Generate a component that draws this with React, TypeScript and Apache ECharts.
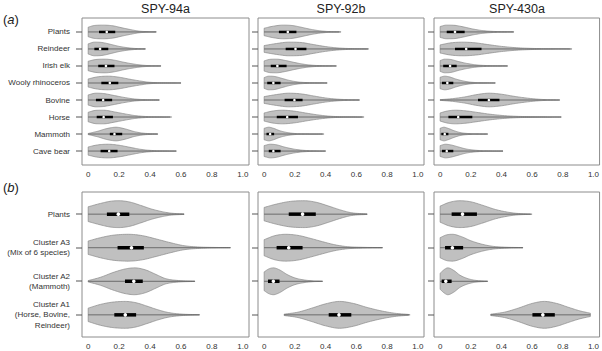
import React, { useEffect, useRef } from 'react';
import * as echarts from 'echarts';

const panelTitles = ['SPY-94a', 'SPY-92b', 'SPY-430a'];
const rowsA = ['Plants', 'Reindeer', 'Irish elk', 'Wooly rhinoceros', 'Bovine', 'Horse', 'Mammoth', 'Cave bear'];
const rowsB = ['Plants', 'Cluster A3\n(Mix of 6 species)', 'Cluster A2\n(Mammoth)', 'Cluster A1\n(Horse, Bovine,\nReindeer)'];
const xTicks = [0, 0.2, 0.4, 0.6, 0.8, 1.0];

// box stats per violin: [q1, median, q3, end of whisker line]
const boxA94 = [[0.07, 0.12, 0.175, 0.44], [0.04, 0.077, 0.13, 0.37], [0.065, 0.115, 0.17, 0.47], [0.085, 0.14, 0.195, 0.6], [0.05, 0.097, 0.155, 0.46], [0.055, 0.1, 0.16, 0.53], [0.14, 0.17, 0.22, 0.45], [0.08, 0.136, 0.19, 0.57]];
const boxA92 = [[0.096, 0.154, 0.21, 0.49], [0.14, 0.204, 0.275, 0.675], [0.043, 0.086, 0.146, 0.47], [0.02, 0.06, 0.107, 0.41], [0.133, 0.197, 0.25, 0.62], [0.082, 0.15, 0.22, 0.64], [0.015, 0.039, 0.065, 0.39], [0.03, 0.06, 0.107, 0.4]];
const boxA430 = [[0.043, 0.097, 0.16, 0.48], [0.097, 0.17, 0.27, 0.85], [0.02, 0.065, 0.108, 0.44], [0.012, 0.047, 0.086, 0.36], [0.247, 0.318, 0.387, 0.78], [0.054, 0.118, 0.21, 0.79], [0.008, 0.03, 0.054, 0.31], [0.012, 0.043, 0.086, 0.41]];
const boxB94 = [[0.121, 0.195, 0.266, 0.62], [0.19, 0.28, 0.36, 0.92], [0.238, 0.295, 0.353, 0.69], [0.169, 0.24, 0.31, 0.72]];
const boxB92 = [[0.16, 0.25, 0.336, 0.67], [0.081, 0.16, 0.25, 0.77], [0.025, 0.06, 0.1, 0.38], [0.42, 0.487, 0.567, 0.95]];
const boxB430 = [[0.075, 0.146, 0.24, 0.6], [0.032, 0.08, 0.15, 0.54], [0.01, 0.037, 0.075, 0.31], [0.602, 0.67, 0.748, 0.98]];

// violin outlines: [x, relative half-width (1 = widest)]
const shapeA94 = [
  [[0, 0.7], [0.04, 0.95], [0.1, 1], [0.16, 0.9], [0.22, 0.6], [0.28, 0.32], [0.33, 0.12], [0.38, 0.05], [0.44, 0.02]],
  [[0, 0.75], [0.04, 1], [0.09, 0.95], [0.15, 0.65], [0.2, 0.38], [0.25, 0.2], [0.3, 0.08], [0.37, 0.02]],
  [[0, 0.7], [0.05, 0.95], [0.11, 1], [0.17, 0.85], [0.23, 0.55], [0.29, 0.3], [0.35, 0.12], [0.4, 0.05], [0.47, 0.02]],
  [[0, 0.6], [0.06, 0.9], [0.13, 1], [0.2, 0.85], [0.27, 0.55], [0.34, 0.28], [0.4, 0.1], [0.5, 0.04], [0.6, 0.01]],
  [[0, 0.75], [0.05, 1], [0.1, 0.95], [0.17, 0.65], [0.24, 0.35], [0.3, 0.15], [0.36, 0.06], [0.46, 0.02]],
  [[0, 0.7], [0.05, 0.98], [0.1, 1], [0.17, 0.75], [0.24, 0.45], [0.3, 0.22], [0.37, 0.08], [0.45, 0.03], [0.54, 0.01]],
  [[0, 0.08], [0.06, 0.4], [0.12, 0.8], [0.18, 1], [0.24, 0.75], [0.3, 0.35], [0.36, 0.12], [0.45, 0.02]],
  [[0, 0.6], [0.06, 0.9], [0.13, 1], [0.2, 0.85], [0.27, 0.55], [0.34, 0.25], [0.4, 0.1], [0.48, 0.04], [0.57, 0.01]],
];
const shapeA92 = [
  [[0, 0.55], [0.06, 0.85], [0.12, 1], [0.18, 0.95], [0.24, 0.7], [0.3, 0.4], [0.36, 0.18], [0.42, 0.06], [0.5, 0.02]],
  [[0, 0.5], [0.08, 0.8], [0.16, 1], [0.24, 0.95], [0.32, 0.65], [0.4, 0.35], [0.48, 0.15], [0.56, 0.06], [0.68, 0.02]],
  [[0, 0.75], [0.04, 0.98], [0.08, 1], [0.14, 0.8], [0.2, 0.5], [0.26, 0.25], [0.32, 0.1], [0.4, 0.04], [0.47, 0.01]],
  [[0, 0.8], [0.03, 1], [0.07, 0.95], [0.12, 0.65], [0.17, 0.35], [0.22, 0.15], [0.28, 0.06], [0.41, 0.01]],
  [[0, 0.5], [0.08, 0.8], [0.16, 1], [0.24, 0.9], [0.32, 0.6], [0.4, 0.3], [0.48, 0.12], [0.55, 0.05], [0.62, 0.02]],
  [[0, 0.6], [0.06, 0.9], [0.12, 1], [0.2, 0.85], [0.28, 0.55], [0.36, 0.28], [0.44, 0.1], [0.54, 0.04], [0.65, 0.01]],
  [[0, 0.85], [0.03, 1], [0.06, 0.85], [0.1, 0.5], [0.15, 0.22], [0.2, 0.08], [0.27, 0.03], [0.38, 0.01]],
  [[0, 0.8], [0.04, 1], [0.08, 0.92], [0.13, 0.6], [0.19, 0.3], [0.25, 0.12], [0.32, 0.04], [0.4, 0.01]],
];
const shapeA430 = [
  [[0, 0.8], [0.04, 1], [0.09, 0.98], [0.15, 0.75], [0.21, 0.45], [0.27, 0.22], [0.33, 0.1], [0.4, 0.04], [0.48, 0.01]],
  [[0, 0.6], [0.07, 0.9], [0.15, 1], [0.23, 0.9], [0.31, 0.65], [0.4, 0.38], [0.5, 0.18], [0.6, 0.08], [0.72, 0.03], [0.86, 0.01]],
  [[0, 0.8], [0.03, 1], [0.07, 0.95], [0.12, 0.65], [0.18, 0.35], [0.24, 0.15], [0.31, 0.06], [0.44, 0.01]],
  [[0, 0.85], [0.03, 1], [0.06, 0.9], [0.1, 0.6], [0.15, 0.3], [0.2, 0.12], [0.26, 0.04], [0.36, 0.01]],
  [[0, 0.05], [0.08, 0.2], [0.16, 0.45], [0.24, 0.8], [0.32, 1], [0.4, 0.85], [0.48, 0.55], [0.56, 0.3], [0.64, 0.12], [0.7, 0.05], [0.78, 0.01]],
  [[0, 0.6], [0.05, 0.9], [0.1, 1], [0.17, 0.9], [0.25, 0.65], [0.33, 0.4], [0.42, 0.2], [0.5, 0.1], [0.6, 0.05], [0.7, 0.02], [0.79, 0.01]],
  [[0, 0.85], [0.025, 1], [0.05, 0.85], [0.09, 0.5], [0.13, 0.22], [0.18, 0.08], [0.24, 0.03], [0.31, 0.01]],
  [[0, 0.8], [0.035, 1], [0.07, 0.9], [0.12, 0.6], [0.17, 0.3], [0.23, 0.12], [0.3, 0.04], [0.41, 0.01]],
];
const shapeB94 = [
  [[0, 0.55], [0.08, 0.8], [0.15, 0.97], [0.2, 1], [0.27, 0.9], [0.34, 0.65], [0.41, 0.38], [0.48, 0.18], [0.54, 0.07], [0.62, 0.02]],
  [[0, 0.5], [0.08, 0.75], [0.16, 0.93], [0.26, 1], [0.35, 0.9], [0.44, 0.65], [0.53, 0.38], [0.62, 0.15], [0.72, 0.05], [0.82, 0.02], [0.92, 0.01]],
  [[0, 0.05], [0.08, 0.3], [0.16, 0.65], [0.24, 0.92], [0.3, 1], [0.37, 0.85], [0.44, 0.5], [0.5, 0.2], [0.57, 0.07], [0.69, 0.01]],
  [[0, 0.5], [0.08, 0.78], [0.16, 0.95], [0.24, 1], [0.31, 0.9], [0.38, 0.65], [0.45, 0.38], [0.52, 0.17], [0.6, 0.06], [0.72, 0.01]],
];
const shapeB92 = [
  [[0, 0.5], [0.08, 0.75], [0.17, 0.95], [0.26, 1], [0.34, 0.88], [0.42, 0.6], [0.5, 0.3], [0.57, 0.1], [0.67, 0.02]],
  [[0, 0.6], [0.07, 0.9], [0.14, 1], [0.22, 0.92], [0.3, 0.7], [0.38, 0.45], [0.46, 0.22], [0.54, 0.08], [0.64, 0.03], [0.77, 0.01]],
  [[0, 0.7], [0.03, 0.92], [0.06, 1], [0.1, 0.85], [0.15, 0.5], [0.2, 0.25], [0.26, 0.1], [0.32, 0.03], [0.38, 0.01]],
  [[0.13, 0.05], [0.22, 0.2], [0.31, 0.5], [0.4, 0.82], [0.49, 1], [0.58, 0.85], [0.67, 0.55], [0.76, 0.3], [0.85, 0.12], [0.94, 0.03]],
];
const shapeB430 = [
  [[0, 0.6], [0.06, 0.88], [0.13, 1], [0.2, 0.92], [0.28, 0.65], [0.36, 0.35], [0.44, 0.15], [0.5, 0.06], [0.59, 0.01]],
  [[0, 0.75], [0.04, 0.95], [0.08, 1], [0.14, 0.82], [0.2, 0.52], [0.27, 0.27], [0.34, 0.11], [0.42, 0.04], [0.54, 0.01]],
  [[0, 0.6], [0.03, 0.9], [0.05, 1], [0.09, 0.8], [0.13, 0.45], [0.18, 0.2], [0.23, 0.07], [0.31, 0.01]],
  [[0.33, 0.05], [0.42, 0.2], [0.51, 0.5], [0.6, 0.85], [0.68, 1], [0.76, 0.85], [0.84, 0.55], [0.91, 0.3], [0.98, 0.12]],
];

const FONT = 'Liberation Sans, Arial, Helvetica, sans-serif';

// monotone cubic (Fritsch-Carlson) for drawing a smooth outline through the read points
function smoothOutline(pts: number[][], steps = 8): number[][] {
  const n = pts.length;
  if (n < 3) return pts;
  const xs = pts.map((p) => p[0]);
  const ys = pts.map((p) => p[1]);
  const d: number[] = [];
  for (let i = 0; i < n - 1; i++) d.push((ys[i + 1] - ys[i]) / (xs[i + 1] - xs[i]));
  const m: number[] = new Array(n);
  m[0] = d[0];
  m[n - 1] = d[n - 2];
  for (let i = 1; i < n - 1; i++) {
    if (d[i - 1] * d[i] <= 0) m[i] = 0;
    else m[i] = (d[i - 1] + d[i]) / 2;
  }
  for (let i = 0; i < n - 1; i++) {
    if (d[i] === 0) { m[i] = 0; m[i + 1] = 0; continue; }
    const a = m[i] / d[i];
    const b = m[i + 1] / d[i];
    const s = a * a + b * b;
    if (s > 9) {
      const t = 3 / Math.sqrt(s);
      m[i] = t * a * d[i];
      m[i + 1] = t * b * d[i];
    }
  }
  const out: number[][] = [];
  for (let i = 0; i < n - 1; i++) {
    const h = xs[i + 1] - xs[i];
    for (let k = 0; k < steps; k++) {
      const t = k / steps;
      const h00 = 2 * t * t * t - 3 * t * t + 1;
      const h10 = t * t * t - 2 * t * t + t;
      const h01 = -2 * t * t * t + 3 * t * t;
      const h11 = t * t * t - t * t;
      out.push([xs[i] + t * h, Math.max(0, h00 * ys[i] + h10 * h * m[i] + h01 * ys[i + 1] + h11 * h * m[i + 1])]);
    }
  }
  out.push([xs[n - 1], ys[n - 1]]);
  return out;
}

function makeRender(boxes: number[][], shapes: number[][][], thick: number, dotR: number) {
  return (params: any, api: any) => {
    const i = params.dataIndex;
    const row = i + 1;
    const prof = shapes[i];
    const [q1, med, q3, hi] = boxes[i];
    const c0 = api.coord([0, row]);
    const cy = c0[1];
    const hw = Math.abs(api.coord([0, row + 0.4])[1] - cy);
    const dense = smoothOutline(prof);
    const top = dense.map(([x, w]) => [api.coord([x, row])[0], cy - w * hw]);
    const bot = dense.slice().reverse().map(([x, w]) => [api.coord([x, row])[0], cy + w * hw]);
    const xLo = api.coord([prof[0][0], row])[0];
    const xHi = api.coord([hi, row])[0];
    const xq1 = api.coord([q1, row])[0];
    const xq3 = api.coord([q3, row])[0];
    const xm = api.coord([med, row])[0];
    const gx = api.coord([-0.04, row])[0];
    return {
      type: 'group',
      children: [
        // y-axis tick mark
        { type: 'rect', shape: { x: gx - 6, y: Math.round(cy) - 0.5, width: 6, height: 1 }, style: { fill: '#555' }, z2: 100 },
        { type: 'polygon', shape: { points: top.concat(bot) }, style: { fill: '#c0c0c0', stroke: '#888', lineWidth: 0.7 } },
        { type: 'line', shape: { x1: xLo, y1: cy, x2: xHi, y2: cy }, style: { stroke: '#555', lineWidth: 0.8 } },
        { type: 'rect', shape: { x: xq1, y: cy - thick / 2, width: xq3 - xq1, height: thick }, style: { fill: '#000' } },
        { type: 'circle', shape: { cx: xm, cy, r: dotR }, style: { fill: '#fff' } },
      ],
    };
  };
}

export default function App() {
  const ref = useRef<HTMLDivElement>(null);
  useEffect(() => {
    if (!ref.current) return;
    const chart = echarts.init(ref.current, undefined, { renderer: 'svg' });
    const colLeft = [82, 258, 434];
    const colWidth = [167, 166, 166];
    const rowTop = [18, 192];
    const rowHeight = [147, 145];
    const panels = [
      { r: 0, c: 0, rows: rowsA, box: boxA94, shape: shapeA94 },
      { r: 0, c: 1, rows: rowsA, box: boxA92, shape: shapeA92 },
      { r: 0, c: 2, rows: rowsA, box: boxA430, shape: shapeA430 },
      { r: 1, c: 0, rows: rowsB, box: boxB94, shape: shapeB94 },
      { r: 1, c: 1, rows: rowsB, box: boxB92, shape: shapeB92 },
      { r: 1, c: 2, rows: rowsB, box: boxB430, shape: shapeB430 },
    ];
    const grid: any[] = [];
    const xAxis: any[] = [];
    const yAxis: any[] = [];
    const series: any[] = [];
    panels.forEach((p, k) => {
      const n = p.rows.length;
      const pad = n * 0.04;
      grid.push({
        left: colLeft[p.c], top: rowTop[p.r], width: colWidth[p.c], height: rowHeight[p.r],
        show: true, borderColor: '#8c8c8c', borderWidth: 1, backgroundColor: 'transparent',
      });
      xAxis.push({
        type: 'value', gridIndex: k, min: -0.04, max: 1.04,
        axisLine: { show: false }, axisTick: { show: false }, splitLine: { show: false },
        axisLabel: {
          customValues: xTicks, fontSize: 8, color: '#333', margin: 5, fontFamily: FONT,
          formatter: (v: number) => (v === 0 ? '0' : v.toFixed(1)),
        },
      });
      yAxis.push({
        type: 'value', gridIndex: k, min: 0.5 - pad, max: n + 0.5 + pad, inverse: true,
        axisLine: { show: false }, splitLine: { show: false }, axisTick: { show: false },
        axisLabel: {
          show: p.c === 0, customValues: p.rows.map((_, i) => i + 1), fontSize: 8, color: '#333', margin: 12,
          fontFamily: FONT, lineHeight: 10.5,
          formatter: (v: number) => p.rows[Math.round(v) - 1] || '',
        },
      });
      series.push({
        type: 'custom', xAxisIndex: k, yAxisIndex: k, clip: false, z: 5,
        renderItem: makeRender(p.box, p.shape, p.r === 0 ? 2.5 : 3.5, p.r === 0 ? 1.3 : 1.8),
        data: p.box.map((b, i) => [b[1], i + 1]),
        encode: { x: 0, y: 1 },
      });
    });
    const graphic: any[] = panelTitles.map((t, c) => ({
      type: 'text', x: colLeft[c] + colWidth[c] / 2, y: 9,
      style: { text: t, font: `12.5px ${FONT}`, fill: '#222', align: 'center', verticalAlign: 'middle' },
    }));
    graphic.push({
      type: 'text', x: 3, y: 19,
      style: { text: '({i|a})', font: `13px ${FONT}`, fill: '#222', verticalAlign: 'middle', rich: { i: { fontStyle: 'italic', fontSize: 13, fontFamily: FONT } } },
    });
    graphic.push({
      type: 'text', x: 3, y: 187,
      style: { text: '({i|b})', font: `13px ${FONT}`, fill: '#222', verticalAlign: 'middle', rich: { i: { fontStyle: 'italic', fontSize: 13, fontFamily: FONT } } },
    });
    chart.setOption({ animation: false, backgroundColor: '#fff', grid, xAxis, yAxis, series, graphic });
    return () => chart.dispose();
  }, []);
  return <div ref={ref} style={{ position: 'fixed', left: 0, top: 0, width: 602, height: 351 }} />;
}
